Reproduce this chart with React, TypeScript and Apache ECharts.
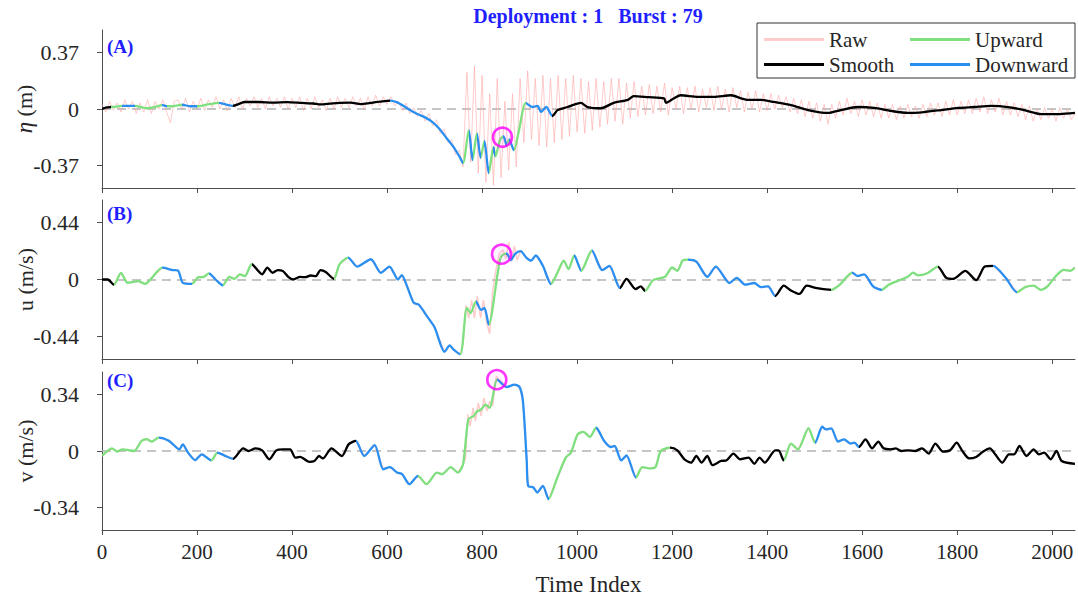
import React, { useEffect, useRef } from "react";
import * as echarts from "echarts";

const X_MAX = 2048;
const xTicks = [0, 200, 400, 600, 800, 1000, 1200, 1400, 1600, 1800, 2000];
const etaTicks = [-0.37, 0, 0.37];
const uTicks = [-0.44, 0, 0.44];
const vTicks = [-0.34, 0, 0.34];

const titleText = "Deployment : 1   Burst : 79";
const panelLabels = ["(A)", "(B)", "(C)"];
const legendCol1 = ["Raw", "Smooth"];
const legendCol2 = ["Upward", "Downward"];

// raw eta sampled every 8 indices
const RAW_STEP = 8;
const etaRaw = [
  0.03, -0.02, 0.05, -0.01, 0.04, -0.02, 0.06, 0.0, 0.05, -0.03, 0.04, -0.02, 0.06, -0.03, 0.05, 0.0,
  0.06, -0.02, -0.09, 0.05, 0.06, 0.0, 0.07, -0.02, 0.05, 0.0, 0.07, -0.01, 0.06, 0.01, 0.08, 0.0,
  0.06, -0.01, 0.07, 0.01, 0.08, 0.0, 0.07, 0.02, 0.08, 0.01, 0.07, 0.0, 0.08, 0.02, 0.07, 0.01,
  0.08, 0.0, 0.07, 0.01, 0.08, -0.01, 0.07, 0.0, 0.08, 0.01, 0.06, -0.01, 0.07, 0.0, 0.08, 0.01,
  0.07, 0.01, 0.08, 0.02, 0.07, 0.0, 0.08, 0.02, 0.09, 0.02, 0.08, 0.03, 0.08, 0.02, 0.05, -0.01,
  0.04, -0.03, 0.01, -0.05, -0.01, -0.08, -0.03, -0.11, -0.07, -0.16, -0.13, -0.22, -0.2, -0.3, -0.27, -0.38,
  0.24, -0.35, 0.28, -0.42, 0.22, -0.48, 0.1, -0.5, 0.2, -0.45, 0.05, -0.4, 0.1, -0.38, 0.2, -0.22,
  0.25, -0.2, 0.2, -0.24, 0.22, -0.25, 0.2, -0.22, 0.22, -0.2, 0.2, -0.18, 0.22, -0.15, 0.2, -0.16,
  0.18, -0.14, 0.2, -0.12, 0.18, -0.1, 0.2, -0.08, 0.2, -0.1, 0.17, -0.06, 0.18, -0.05, 0.15, -0.04,
  0.16, -0.03, 0.15, -0.02, 0.17, -0.04, 0.14, 0.0, 0.15, -0.03, 0.14, 0.0, 0.15, -0.02, 0.13, 0.01,
  0.14, -0.01, 0.15, 0.0, 0.13, -0.02, 0.14, 0.01, 0.12, -0.02, 0.11, 0.0, 0.12, -0.02, 0.1, -0.01,
  0.1, 0.0, 0.09, 0.01, 0.08, -0.02, 0.07, -0.03, 0.06, -0.05, 0.05, -0.06, 0.04, -0.08, 0.03, -0.1,
  0.03, -0.06, 0.05, -0.04, 0.07, -0.03, 0.05, -0.05, 0.06, -0.04, 0.05, -0.05, 0.04, -0.06, 0.03, -0.06,
  0.03, -0.07, 0.02, -0.06, 0.03, -0.05, 0.02, -0.06, 0.03, -0.05, 0.04, -0.04, 0.04, -0.05, 0.05, -0.04,
  0.06, -0.04, 0.05, -0.03, 0.06, -0.03, 0.07, -0.02, 0.08, -0.03, 0.06, -0.02, 0.07, -0.04, 0.05, -0.04,
  0.04, -0.05, 0.03, -0.07, 0.02, -0.08, 0.0, -0.07, 0.01, -0.06, 0.0, -0.08, 0.01, -0.06, 0.0, -0.07,
  -0.03,
];

const etaSmooth = [
  [0, 0.0], [10, 0.01], [18, 0.013], [30, 0.016], [42, 0.02], [55, 0.02], [70, 0.02], [85, 0.01], [95, 0.005],
  [110, 0.012], [127, 0.026], [137, 0.018], [150, 0.018], [169, 0.028], [185, 0.018], [200, 0.018], [220, 0.028],
  [246, 0.04], [260, 0.03], [275, 0.02], [290, 0.035], [300, 0.046], [330, 0.046], [360, 0.042], [390, 0.045],
  [420, 0.04], [445, 0.036], [460, 0.03], [480, 0.035], [500, 0.04], [523, 0.042], [545, 0.032], [565, 0.04],
  [585, 0.048], [607, 0.055], [620, 0.045], [635, 0.02], [650, -0.01], [665, -0.035], [680, -0.055], [695, -0.085],
  [710, -0.13], [725, -0.19], [740, -0.25], [752, -0.31], [760, -0.355], [772, -0.138], [780, -0.335], [789, -0.16],
  [797, -0.32], [805, -0.21], [814, -0.42], [824, -0.25], [828, -0.31], [838, -0.2], [845, -0.18], [852, -0.24],
  [857, -0.2], [867, -0.27], [877, -0.15], [892, 0.04], [906, 0.013], [917, 0.02], [924, -0.02], [935, 0.013],
  [948, -0.046], [959, -0.007], [980, 0.013], [1008, 0.04], [1022, 0.013], [1050, 0.005], [1077, 0.04], [1107, 0.06],
  [1119, 0.085], [1150, 0.078], [1183, 0.07], [1187, 0.04], [1204, 0.07], [1218, 0.09], [1254, 0.08], [1288, 0.08],
  [1324, 0.09], [1345, 0.07], [1360, 0.06], [1387, 0.06], [1414, 0.046], [1450, 0.026], [1486, -0.007],
  [1528, -0.026], [1555, -0.007], [1591, 0.013], [1625, 0.007], [1661, -0.013], [1696, -0.026], [1730, -0.02],
  [1766, -0.007], [1802, 0.007], [1836, 0.013], [1871, 0.02], [1907, 0.013], [1941, -0.007], [1977, -0.033],
  [2016, -0.033], [2048, -0.026],
];

const uSmooth = [
  [0, 0], [12, 0.0], [25, -0.04], [40, 0.052], [54, -0.026], [76, -0.013], [91, -0.034], [105, 0.013], [127, 0.092],
  [149, 0.073], [160, 0.07], [170, -0.026], [189, -0.034], [203, 0.018], [214, 0.02], [225, 0.047], [239, 0],
  [254, -0.045], [268, 0.02], [279, 0.005], [290, 0.04], [301, 0.026], [315, 0.118], [337, 0.04], [348, 0.092],
  [359, 0.052], [370, 0.073], [381, 0.065], [392, 0.02], [402, 0], [417, 0.02], [428, 0.018], [439, 0.031],
  [450, 0.026], [460, 0.073], [471, 0.058], [488, 0.005], [500, 0.118], [518, 0.17], [537, 0.1], [566, 0.157],
  [587, 0.052], [605, 0.1], [623, 0], [631, 0.034], [642, -0.052], [656, -0.18], [667, -0.196], [685, -0.29],
  [700, -0.37], [721, -0.56], [732, -0.51], [739, -0.54], [754, -0.58], [768, -0.22], [776, -0.26], [787, -0.17],
  [798, -0.236], [805, -0.22], [814, -0.35], [833, 0.052], [838, 0.157], [843, 0.19], [852, 0.2], [860, 0.15],
  [870, 0.2], [881, 0.22], [893, 0.17], [903, 0.146], [913, 0.186], [928, 0.106], [945, -0.035], [957, 0.04],
  [972, 0.146], [982, 0.08], [994, 0.186], [1009, 0.067], [1031, 0.226], [1053, 0.072], [1068, 0.106],
  [1090, -0.067], [1104, 0.005], [1123, -0.074], [1134, -0.053], [1143, -0.088], [1160, -0.005], [1185, 0.021],
  [1200, 0.093], [1211, 0.067], [1222, 0.146], [1233, 0.154], [1251, 0.138], [1274, 0.021], [1292, 0.1],
  [1321, -0.027], [1336, 0.013], [1354, -0.04], [1373, -0.027], [1387, -0.059], [1402, -0.053], [1417, -0.128],
  [1435, -0.048], [1450, -0.085], [1468, -0.112], [1483, -0.048], [1505, -0.067], [1535, -0.08], [1553, -0.04],
  [1579, 0.053], [1590, 0.027], [1604, 0.04], [1623, -0.053], [1641, -0.08], [1656, -0.04], [1682, 0],
  [1696, 0.021], [1707, 0.053], [1718, 0.032], [1737, 0.048], [1759, 0.1], [1777, 0.013], [1792, 0.005],
  [1817, 0.067], [1840, -0.005], [1858, 0.1], [1876, 0.106], [1902, 0.013], [1926, -0.1], [1943, -0.059],
  [1961, -0.048], [1976, -0.08], [1990, -0.053], [2009, 0.032], [2024, 0.074], [2038, 0.067], [2048, 0.093],
];
const uRawBurst = [
  [760, -0.5], [766, -0.2], [772, -0.3], [778, -0.16], [784, -0.3], [790, -0.13], [797, -0.3], [803, -0.16],
  [810, -0.34], [816, -0.42], [822, -0.1], [828, 0.05], [836, 0.2], [844, 0.23], [850, 0.16], [856, 0.29],
  [862, 0.14], [868, 0.26], [874, 0.15], [881, 0.22],
];

const vSmooth = [
  [0, -0.03], [21, 0.016], [32, -0.004], [43, 0.01], [57, 0.004], [68, 0], [83, 0.06], [94, 0.071], [105, 0.057],
  [119, 0.081], [141, 0.061], [163, 0.01], [170, 0.04], [181, -0.01], [196, -0.055], [210, -0.02], [230, -0.057],
  [243, -0.01], [257, -0.026], [276, -0.047], [297, 0.016], [308, 0], [323, 0.016], [337, 0.004], [352, -0.05],
  [367, 0.004], [381, 0.01], [396, 0.01], [407, -0.04], [417, -0.035], [436, -0.065], [447, -0.06], [457, -0.03],
  [465, -0.045], [483, 0.016], [505, -0.03], [519, 0.04], [534, 0.061], [552, -0.03], [574, 0.036], [592, -0.11],
  [606, -0.097], [621, -0.13], [632, -0.14], [647, -0.2], [665, -0.15], [683, -0.2], [705, -0.13], [716, -0.14],
  [734, -0.097], [749, -0.13], [760, -0.08], [771, 0.19], [782, 0.21], [790, 0.24], [798, 0.25], [807, 0.28],
  [816, 0.26], [832, 0.43], [852, 0.385], [868, 0.4], [879, 0.385], [886, 0.3], [894, -0.06], [897, -0.21],
  [908, -0.22], [916, -0.25], [928, -0.21], [940, -0.29], [957, -0.17], [976, -0.04], [987, -0.01], [1001, 0.1],
  [1013, 0.115], [1027, 0.085], [1040, 0.14], [1057, 0.06], [1071, 0.024], [1079, 0.03], [1093, -0.057],
  [1104, -0.026], [1124, -0.16], [1137, -0.097], [1152, -0.105], [1165, -0.097], [1176, 0], [1196, 0.02],
  [1211, 0.004], [1226, -0.05], [1240, -0.07], [1251, -0.03], [1262, -0.07], [1274, -0.03], [1285, -0.085],
  [1303, -0.06], [1314, -0.057], [1329, -0.016], [1343, -0.05], [1361, -0.04], [1373, -0.077], [1384, -0.04],
  [1395, -0.07], [1417, 0.004], [1424, 0.004], [1435, -0.057], [1450, 0.045], [1465, 0.01], [1487, 0.138],
  [1501, 0.05], [1516, 0.146], [1524, 0.13], [1535, 0.136], [1549, 0.057], [1562, 0.07], [1575, 0.045],
  [1584, 0.05], [1593, 0.024], [1607, 0.07], [1621, 0.016], [1634, 0.057], [1645, 0.016], [1660, 0.01],
  [1671, 0.016], [1682, 0], [1696, 0.004], [1711, 0], [1726, 0.016], [1740, -0.016], [1754, 0.045],
  [1770, -0.004], [1785, 0.004], [1799, 0.05], [1810, 0.004], [1825, -0.045], [1840, -0.036], [1854, -0.004],
  [1869, 0.016], [1880, -0.02], [1895, -0.07], [1909, -0.02], [1920, -0.02], [1931, 0.03], [1946, -0.03],
  [1961, 0.01], [1972, -0.02], [1983, -0.01], [1997, -0.05], [2009, 0], [2020, -0.06], [2048, -0.077],
];
const vRawBurst = [
  [765, -0.05], [770, 0.22], [775, 0.15], [781, 0.26], [786, 0.18], [792, 0.29], [798, 0.21], [804, 0.32],
  [810, 0.24], [816, 0.3], [822, 0.27], [830, 0.45], [836, 0.43],
];

// segments: [start, end, kind]  S = smooth, U = upward, D = downward
const etaSegments = [
  [0, 18, "S"], [18, 42, "U"], [42, 70, "D"], [70, 127, "U"], [127, 137, "D"], [137, 169, "U"], [169, 200, "D"],
  [200, 246, "U"], [246, 275, "D"], [275, 607, "S"], [607, 760, "D"], [760, 772, "U"], [772, 780, "D"],
  [780, 789, "U"], [789, 797, "D"], [797, 805, "U"], [805, 814, "D"], [814, 824, "U"], [824, 828, "D"],
  [828, 845, "U"], [845, 852, "D"], [852, 857, "U"], [857, 867, "D"], [867, 892, "U"], [892, 948, "D"],
  [948, 2048, "S"],
];
const uSegments = [
  [0, 25, "S"], [25, 127, "U"], [127, 189, "D"], [189, 225, "U"], [225, 254, "D"], [254, 315, "U"],
  [315, 488, "S"], [488, 518, "U"], [518, 754, "D"], [754, 787, "U"], [787, 814, "D"], [814, 850, "U"],
  [850, 945, "D"], [945, 994, "U"], [994, 1009, "D"], [1009, 1031, "U"], [1031, 1090, "D"], [1090, 1143, "S"],
  [1143, 1233, "U"], [1233, 1417, "D"], [1417, 1535, "S"], [1535, 1579, "U"], [1579, 1641, "D"],
  [1641, 1759, "U"], [1759, 1876, "S"], [1876, 1926, "D"], [1926, 2048, "U"],
];
const vSegments = [
  [0, 119, "U"], [119, 230, "D"], [230, 243, "U"], [243, 276, "D"], [276, 534, "S"], [534, 665, "D"],
  [665, 832, "U"], [832, 940, "D"], [940, 1040, "U"], [1040, 1124, "D"], [1124, 1196, "U"], [1196, 1435, "S"],
  [1435, 1501, "U"], [1501, 1593, "D"], [1593, 2048, "S"],
];

const etaPeak = [[843, -0.185]];
const uPeak = [[841, 0.196]];
const vPeak = [[831, 0.43]];

const C_RAW = "rgba(255,160,160,0.55)";
const C_RAW_LEG = "#ffcccc";
const C_UP = "#7fe07f";
const C_DOWN = "#2a8ff0";
const C_SMOOTH = "#000000";
const kindColor = { S: C_SMOOTH, U: C_UP, D: C_DOWN };
const FONT = "Liberation Serif";
const TXT = "#262626";
const AX = "#4d4d4d";

function mergeRaw(smooth, burst) {
  const a = burst[0][0];
  const b = burst[burst.length - 1][0];
  return [
    ...smooth.filter((p) => p[0] < a),
    ...burst,
    ...smooth.filter((p) => p[0] > b),
  ];
}

function buildOption() {
  const etaRawData = etaRaw.map((v, i) => [i * RAW_STEP, v]);
  const uRawData = mergeRaw(uSmooth, uRawBurst);
  const vRawData = mergeRaw(vSmooth, vRawBurst);

  const panels = [
    { ticks: etaTicks, name: "{i|η} (m)", raw: etaRawData, smooth: etaSmooth, segs: etaSegments, peak: etaPeak, rawW: 1 },
    { ticks: uTicks, name: "u (m/s)", raw: uRawData, smooth: uSmooth, segs: uSegments, peak: uPeak, rawW: 1.5 },
    { ticks: vTicks, name: "v (m/s)", raw: vRawData, smooth: vSmooth, segs: vSegments, peak: vPeak, rawW: 1.5 },
  ];
  const gridBase = { left: 102, right: 3, containLabel: false, outerBoundsMode: "none" };
  const grids = [
    { ...gridBase, top: 30, height: 158 },
    { ...gridBase, top: 200, height: 159 },
    { ...gridBase, top: 372, height: 158 },
  ];

  const xAxis = panels.map((_, i) => ({
    type: "value",
    gridIndex: i,
    min: 0,
    max: X_MAX,
    axisLine: { show: true, onZero: false, lineStyle: { color: AX, width: 1 } },
    axisTick: { show: true, length: 5, customValues: xTicks, lineStyle: { color: AX } },
    axisLabel: {
      show: i === 2,
      customValues: xTicks,
      formatter: (v) => String(v),
      fontFamily: FONT,
      fontSize: 21,
      color: TXT,
      margin: 11,
    },
    splitLine: { show: false },
    name: i === 2 ? "Time Index" : "",
    nameLocation: "middle",
    nameGap: 43,
    nameMoveOverlap: false,
    nameTextStyle: { fontFamily: FONT, fontSize: 23, color: TXT },
  }));

  const yAxis = panels.map((p, i) => {
    const lim = p.ticks[2] * 1.4;
    return {
      type: "value",
      gridIndex: i,
      min: -lim,
      max: lim,
      axisLine: { show: true, onZero: false, lineStyle: { color: AX, width: 1 } },
      axisTick: { show: true, length: 5, customValues: p.ticks, lineStyle: { color: AX } },
      axisLabel: {
        customValues: p.ticks,
        formatter: (v) => (Math.abs(v) < 1e-9 ? "0" : v.toFixed(2)),
        fontFamily: FONT,
        fontSize: 22,
        color: TXT,
        margin: 23,
      },
      splitLine: { show: false },
      name: p.name,
      nameLocation: "middle",
      nameRotate: 90,
      nameGap: 66,
      nameMoveOverlap: false,
      nameTextStyle: {
        fontFamily: FONT,
        fontSize: 22,
        color: TXT,
        rich: { i: { fontFamily: FONT, fontStyle: "italic", fontSize: 23, color: TXT } },
      },
    };
  });

  const series = [];
  const visualMap = [];
  panels.forEach((p, i) => {
    series.push({
      name: "Raw",
      type: "line",
      xAxisIndex: i,
      yAxisIndex: i,
      data: p.raw,
      symbol: "none",
      lineStyle: { color: C_RAW, width: p.rawW },
      itemStyle: { color: C_RAW_LEG },
      z: 2,
      silent: true,
      markLine: {
        silent: true,
        symbol: "none",
        label: { show: false },
        lineStyle: { color: "#b3b3b3", type: [9, 6], width: 1.5 },
        data: [{ yAxis: 0 }],
        z: 1,
      },
    });
    const smoothIndex = series.length;
    series.push({
      name: "smooth" + i,
      type: "line",
      xAxisIndex: i,
      yAxisIndex: i,
      data: p.smooth,
      symbol: "none",
      smooth: 0.25,
      lineStyle: { width: 2.3 },
      z: 3,
      silent: true,
    });
    visualMap.push({
      type: "piecewise",
      show: false,
      seriesIndex: smoothIndex,
      dimension: 0,
      pieces: p.segs.map((s, k) =>
        k === p.segs.length - 1
          ? { gte: s[0], lte: s[1], color: kindColor[s[2]] }
          : { gte: s[0], lt: s[1], color: kindColor[s[2]] }
      ),
    });
    series.push({
      name: "peak" + i,
      type: "scatter",
      xAxisIndex: i,
      yAxisIndex: i,
      data: p.peak,
      symbol: "circle",
      symbolSize: 19,
      itemStyle: { color: "rgba(255,0,255,0.06)", borderColor: "#ff00ff", borderWidth: 2.6 },
      z: 5,
      silent: true,
    });
  });
  // legend-only series
  [["Smooth", C_SMOOTH], ["Upward", C_UP], ["Downward", C_DOWN]].forEach(([n, c]) => {
    series.push({
      name: n,
      type: "line",
      xAxisIndex: 0,
      yAxisIndex: 0,
      data: [],
      symbol: "none",
      lineStyle: { color: c, width: 2.6 },
      itemStyle: { color: c },
    });
  });

  const legendCommon = {
    orient: "vertical",
    top: 24,
    itemWidth: 60,
    itemHeight: 3,
    itemGap: 4,
    textStyle: { fontFamily: FONT, fontSize: 21, color: TXT },
    selectedMode: false,
    z: 10,
  };
  const legendItem = (n) => ({ name: n, icon: "rect" });

  return {
    animation: false,
    backgroundColor: "#ffffff",
    grid: grids,
    xAxis,
    yAxis,
    visualMap,
    legend: [
      { ...legendCommon, left: 759, data: legendCol1.map(legendItem) },
      { ...legendCommon, left: 905, data: legendCol2.map(legendItem) },
    ],
    graphic: [
      {
        type: "rect",
        shape: { x: 757, y: 23, width: 318, height: 55 },
        style: { fill: "#ffffff", stroke: "#333333", lineWidth: 1 },
        z: 8,
      },
      {
        type: "text",
        x: 588,
        y: 16,
        style: {
          text: titleText,
          textAlign: "center",
          textVerticalAlign: "middle",
          font: "bold 20px " + FONT,
          fill: "#1f1fff",
        },
        z: 10,
      },
      ...panelLabels.map((t, i) => ({
        type: "text",
        x: 107,
        y: [46, 213, 380][i],
        style: {
          text: t,
          textAlign: "left",
          textVerticalAlign: "middle",
          font: "bold 19px " + FONT,
          fill: "#1f1fff",
        },
        z: 10,
      })),
    ],
    series,
  };
}

export default function App() {
  const ref = useRef(null);
  useEffect(() => {
    const chart = echarts.init(ref.current, null, { renderer: "svg" });
    chart.setOption(buildOption());
    return () => chart.dispose();
  }, []);
  return (
    <div
      ref={ref}
      style={{ position: "fixed", left: 0, top: 0, width: 1078, height: 596, background: "#fff" }}
    />
  );
}
